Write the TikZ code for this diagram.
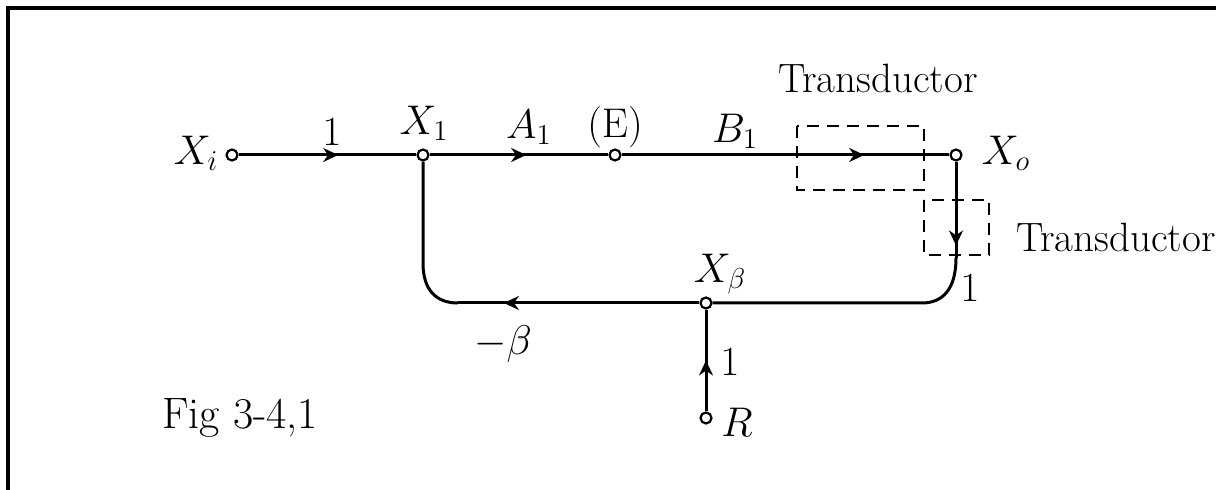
\documentclass[tikz,border=0pt]{standalone}
\usetikzlibrary{arrows.meta, decorations.markings}

\begin{document}
\begin{tikzpicture}[
    x=0.5pt, y=-0.5pt,
    line width=1.5pt,
    port/.style={circle, draw, fill=white, inner sep=0pt, minimum size=5.5pt, line width=1.1pt},
    lbl/.style={font=\fontsize{20}{22}\selectfont, inner sep=0pt},
    tag/.style={font=\fontsize{20.5}{22}\selectfont, inner sep=0pt},
    trbox/.style={draw, dash pattern=on 6pt off 4pt, line width=1.2pt},
    midarr/.style={postaction={decorate},
        decoration={markings, mark=at position #1 with {\arrow{Stealth[length=7.5pt,width=7pt]}}}}
]
\useasboundingbox (0,0) rectangle (1216,490);

% frame of the scanned sheet
\draw[line width=1.8pt] (8,490) -- (8,8) -- (1216,8);

% signal nodes
\node[port] (xi) at (232,155) {};
\node[port] (x1) at (423,155) {};
\node[port] (e)  at (615,155) {};
\node[port] (xo) at (956,155) {};
\node[port] (xb) at (706,303) {};
\node[port] (r)  at (706,418) {};

% corners of the loop
\coordinate (cbr) at (956,258);
\coordinate (cbm) at (922,303);
\coordinate (cbl) at (458,303);
\coordinate (ctl) at (423,263);

% transductor boxes
\draw[trbox] (797,126) rectangle (924,190);
\draw[trbox] (924,200) rectangle (989,255);

% forward path
\draw[midarr=0.56] (xi) -- (x1);
\draw[midarr=0.54] (x1) -- (e);
\draw[midarr=0.74] (e) -- (xo);

% feedback path
\draw[midarr=0.87] (xo) -- (cbr);
\draw (cbr) .. controls (956,290) and (942,303) .. (cbm) -- (xb);
\draw[midarr=0.81] (xb) -- (cbl);
\draw (cbl) .. controls (436,303) and (423,290) .. (ctl) -- (x1);
\draw[midarr=0.5] (r) -- (xb);

% labels
\node[lbl] (lxi) at (196,153) {$X_i$};
\node[lbl] (lg1) at (332,132) {$1$};
\node[lbl] (lx1) at (424,123) {$X_1$};
\node[lbl] (la1) at (529,127) {$A_1$};
\node[lbl] (le)  at (615,127) {$(\mathrm{E})$};
\node[lbl] (lb1) at (735,131) {$B_1$};
\node[lbl] (lxo) at (1006,153) {$X_o$};
\node[lbl] (lxb) at (720,274) {$X_\beta$};
\node[lbl] (lg2) at (970,288) {$1$};
\node[lbl] (lmb) at (503,344) {$-\beta$};
\node[lbl] (lg3) at (730,362) {$1$};
\node[lbl] (lr)  at (737,422) {$R$};
\node[tag] (lt1) at (878,78)  {Transductor};
\node[tag] (lt2) at (1116,237) {Transductor};
\node[lbl, font=\fontsize{22}{24}\selectfont] (fig) at (240,418) {Fig 3-4,1};
\end{tikzpicture}
\end{document}
